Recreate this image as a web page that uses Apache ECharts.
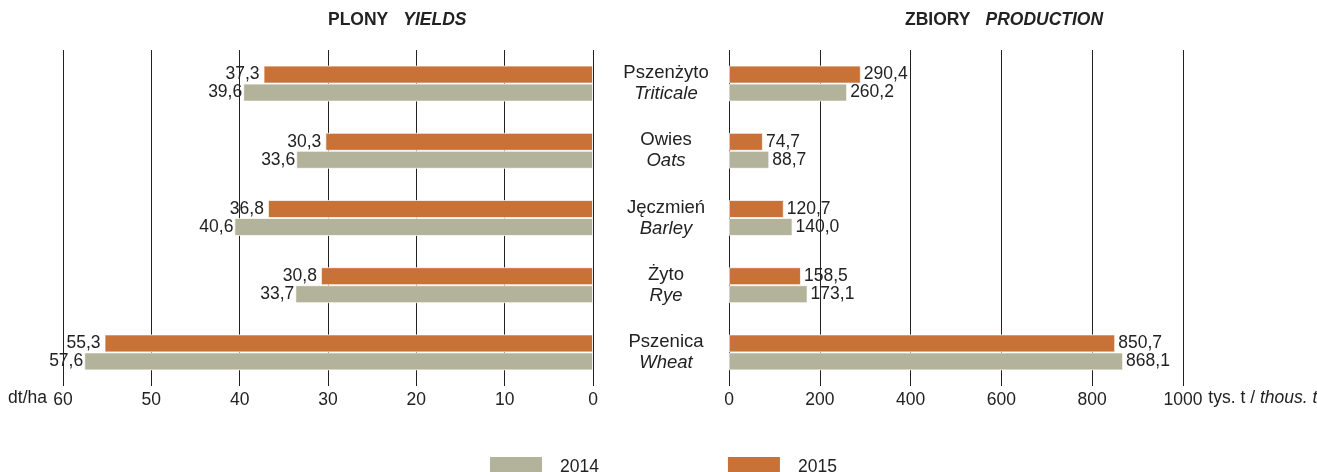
<!DOCTYPE html>
<html>
<head>
<meta charset="utf-8">
<title>Plony i zbiory</title>
<script src="https://cdn.jsdelivr.net/npm/echarts@6/dist/echarts.min.js"></script>
<style>
	html, body { margin: 0; padding: 0; background: #fff; }
	#main { width: 1317px; height: 472px; }
</style>
</head>
<body>
<div id="main"></div>
<script>
	// kategorie (PL / EN)
	var categoriesPl = ['Pszenżyto', 'Owies', 'Jęczmień', 'Żyto', 'Pszenica'];
	var categoriesEn = ['Triticale', 'Oats', 'Barley', 'Rye', 'Wheat'];
	// plony dt/ha
	var yields2014 = [39.6, 33.6, 40.6, 33.7, 57.6];
	var yields2015 = [37.3, 30.3, 36.8, 30.8, 55.3];
	// zbiory tys. t
	var production2014 = [260.2, 88.7, 140.0, 173.1, 868.1];
	var production2015 = [290.4, 74.7, 120.7, 158.5, 850.7];
	var legendNames = ['2014', '2015'];

	var colorGrey = '#B3B39B';
	var colorOrange = '#C87238';
	var textColor = '#222';
	var font = 'Liberation Sans, Arial, sans-serif';

	function fmt(p) {
		return p.value.toFixed(1).replace('.', ',');
	}

	var myChart = echarts.init(document.getElementById('main'));

	var barStyle = function (color) {
		return { color: color, borderColor: 'rgba(255,255,255,0.7)', borderWidth: 1 };
	};

	var titleRich = {
		b: { fontFamily: font, fontWeight: 'bold', fontSize: 17.5, color: textColor },
		i: { fontFamily: font, fontWeight: 'bold', fontStyle: 'italic', fontSize: 17.5, color: textColor }
	};

	myChart.setOption({
		textStyle: { fontFamily: font, color: textColor },
		animation: false,
		title: [{
			text: '{b|PLONY}   {i|YIELDS}',
			left: 323,
			top: 6,
			textStyle: { rich: titleRich }
		}, {
			text: '{b|ZBIORY}   {i|PRODUCTION}',
			left: 900,
			top: 6,
			textStyle: { rich: titleRich }
		}],
		legend: {
			data: legendNames,
			left: 485,
			top: 452,
			itemWidth: 52,
			itemHeight: 20,
			itemGap: 129,
			icon: 'rect',
			itemStyle: { borderWidth: 0 },
			textStyle: { fontSize: 17.5, color: textColor, fontFamily: font, padding: [0, 0, 0, 13] }
		},
		grid: [
			{ left: 63, right: 724, top: 50, bottom: 86, outerBoundsMode: 'none' },
			{ left: 729, right: 134, top: 50, bottom: 86, outerBoundsMode: 'none' }
		],
		xAxis: [{
			gridIndex: 0,
			type: 'value',
			inverse: true,
			min: 0,
			max: 60,
			interval: 10,
			name: '{n|dt/ha}',
			nameLocation: 'end',
			nameGap: 16,
			nameTextStyle: {
				padding: [24, 0, 0, 0],
				rich: {
					n: { fontSize: 17.5, color: textColor, fontFamily: font }
				}
			},
			axisLine: { show: false },
			axisTick: { show: false },
			axisLabel: { fontSize: 17.5, color: textColor, margin: 5 },
			splitLine: { lineStyle: { color: '#222', width: 1 } }
		}, {
			gridIndex: 1,
			type: 'value',
			min: 0,
			max: 1000,
			interval: 200,
			name: '{n|tys. t / }{i|thous. t}',
			nameLocation: 'end',
			nameGap: 20,
			nameTextStyle: {
				padding: [24, 0, 0, 0],
				rich: {
					n: { fontSize: 17.5, color: textColor, fontFamily: font },
					i: { fontSize: 17.5, color: textColor, fontFamily: font, fontStyle: 'italic' }
				}
			},
			axisLine: { show: false },
			axisTick: { show: false },
			axisLabel: {
				fontSize: 17.5,
				color: textColor,
				margin: 5,
				formatter: function (v) { return String(v); }
			},
			splitLine: { lineStyle: { color: '#222', width: 1 } }
		}],
		yAxis: [{
			gridIndex: 0,
			type: 'category',
			inverse: true,
			position: 'right',
			data: categoriesPl,
			axisLine: { show: false },
			axisTick: { show: false },
			axisLabel: { show: false }
		}, {
			gridIndex: 1,
			type: 'category',
			inverse: true,
			data: categoriesPl,
			axisLine: { show: false },
			axisTick: { show: false },
			axisLabel: {
				margin: 63,
				align: 'center',
				formatter: function (value, index) {
					return '{pl|' + value + '}\n{en|' + categoriesEn[index] + '}';
				},
				rich: {
					pl: { fontSize: 18.5, color: textColor, fontFamily: font, lineHeight: 21, align: 'center' },
					en: { fontSize: 18.5, color: textColor, fontFamily: font, fontStyle: 'italic', lineHeight: 21, align: 'center' }
				}
			}
		}],
		series: [{
			name: '2015',
			type: 'bar',
			xAxisIndex: 0,
			yAxisIndex: 0,
			data: yields2015,
			barWidth: 18,
			barGap: '0%',
			itemStyle: barStyle(colorOrange),
			label: { show: true, position: 'left', distance: 4, fontSize: 17.5, color: textColor, formatter: fmt }
		}, {
			name: '2014',
			type: 'bar',
			xAxisIndex: 0,
			yAxisIndex: 0,
			data: yields2014,
			barWidth: 18,
			barGap: '0%',
			itemStyle: barStyle(colorGrey),
			label: { show: true, position: 'left', distance: 1, fontSize: 17.5, color: textColor, formatter: fmt }
		}, {
			name: '2015',
			type: 'bar',
			xAxisIndex: 1,
			yAxisIndex: 1,
			data: production2015,
			barWidth: 18,
			barGap: '0%',
			itemStyle: barStyle(colorOrange),
			label: { show: true, position: 'right', distance: 3, fontSize: 17.5, color: textColor, formatter: fmt }
		}, {
			name: '2014',
			type: 'bar',
			xAxisIndex: 1,
			yAxisIndex: 1,
			data: production2014,
			barWidth: 18,
			barGap: '0%',
			itemStyle: barStyle(colorGrey),
			label: { show: true, position: 'right', distance: 3, fontSize: 17.5, color: textColor, formatter: fmt }
		}]
	});

	window.addEventListener('resize', function () {
		myChart.resize();
	});
</script>
</body>
</html>
